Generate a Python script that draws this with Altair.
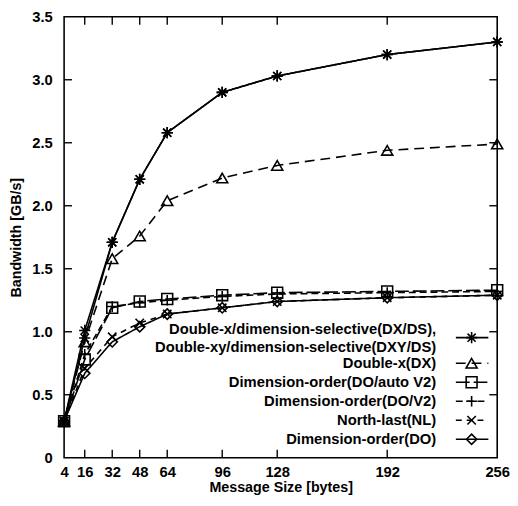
import altair as alt
import pandas as pd

# ---------------- data ----------------
sizes = [4, 16, 32, 48, 64, 96, 128, 192, 256]
series_names = ["DX/DS", "DX", "DO/auto V2", "DO/V2", "NL", "DO"]
dxds = [0.29, 1.01, 1.71, 2.21, 2.58, 2.90, 3.03, 3.20, 3.30]
dxys = [0.29, 0.95, 1.71, 2.21, 2.58, 2.90, 3.03, 3.20, 3.30]
dx = [0.29, 0.92, 1.58, 1.76, 2.04, 2.22, 2.32, 2.44, 2.49]
do_auto_v2 = [0.29, 0.78, 1.19, 1.24, 1.26, 1.29, 1.31, 1.32, 1.33]
do_v2 = [0.29, 0.82, 1.20, 1.23, 1.25, 1.28, 1.30, 1.31, 1.32]
nl = [0.29, 0.71, 0.96, 1.07, 1.14, 1.19, 1.24, 1.27, 1.29]
do = [0.29, 0.67, 0.92, 1.04, 1.14, 1.19, 1.24, 1.27, 1.29]
legend_lines_text = [
    "Double-x/dimension-selective(DX/DS),",
    "Double-xy/dimension-selective(DXY/DS)",
    "Double-x(DX)",
    "Dimension-order(DO/auto V2)",
    "Dimension-order(DO/V2)",
    "North-last(NL)",
    "Dimension-order(DO)",
]
x_ticks = [4, 16, 32, 48, 64, 96, 128, 192, 256]
x_inner_ticks = [16, 32, 48, 64, 96, 128, 192]
y_ticks = [0, 0.5, 1.0, 1.5, 2.0, 2.5, 3.0, 3.5]
y_inner_ticks = [0.5, 1.0, 1.5, 2.0, 2.5, 3.0]

# ---------------- styles ----------------
W, H = 440, 448
TOP = 5
BOTTOM = 490 - TOP - H
FONT = "Liberation Sans"
star = "M-1,0H1M0,-1V1M-0.72,-0.72L0.72,0.72M-0.72,0.72L0.72,-0.72"
plus = "M-1,0H1M0,-1V1"
xmark = "M-0.8,-0.8L0.8,0.8M-0.8,0.8L0.8,-0.8"
shapes = [star, "triangle-up", "square", plus, xmark, "diamond"]
dashes = [[1, 0], [10, 6], [14, 4], [7, 4], [6, 5], [1, 0]]
sizes_mark = [130, 110, 75, 120, 110, 80]
SW = 1.6

rows = []
for name, vals in zip(series_names, [dxds, dx, do_auto_v2, do_v2, nl, do]):
    for s, v in zip(sizes, vals):
        rows.append({"series": name, "line": name, "size": s, "bw": v})
for s, v in zip(sizes, dxys):
    rows.append({"series": "DX/DS", "line": "DXY/DS", "size": s, "bw": v})
df = pd.DataFrame(rows)

xs = alt.Scale(domain=[4, 256], nice=False, zero=False)
ys = alt.Scale(domain=[0, 3.5], nice=False)
dash_scale = alt.Scale(domain=series_names, range=dashes)
shape_scale = alt.Scale(domain=series_names, range=shapes)
size_scale = alt.Scale(domain=series_names, range=sizes_mark)

x_axis = alt.Axis(
    values=x_ticks, title="Message Size [bytes]", grid=False, domain=False,
    tickSize=0, labelPadding=7, labelFont=FONT, labelFontSize=15,
    labelFontWeight="bold", labelColor="black", titleFont=FONT,
    titleFontSize=14.5, titleFontWeight="bold", titleColor="black",
    titlePadding=1, labelFlush=False)
y_axis = alt.Axis(
    values=y_ticks, title="Bandwidth [GB/s]", grid=False, domain=False,
    tickSize=0, labelPadding=12, labelFont=FONT, labelFontSize=15,
    labelFontWeight="bold", labelColor="black", titleFont=FONT,
    titleFontSize=14.5, titleFontWeight="bold", titleColor="black",
    titlePadding=8, labelFlush=False,
    labelExpr="datum.value == 0 ? '0' : format(datum.value, '.1f')")

X = alt.X("size:Q", scale=xs, axis=x_axis, title="Message Size [bytes]")
Y = alt.Y("bw:Q", scale=ys, axis=y_axis, title="Bandwidth [GB/s]")

lines = alt.Chart(df).mark_line(color="black", strokeWidth=SW).encode(
    x=X, y=Y,
    strokeDash=alt.StrokeDash("series:N", scale=dash_scale, legend=None),
    detail="line:N",
)

points = alt.Chart(df).mark_point(filled=False, color="black", strokeWidth=SW, opacity=1).encode(
    x=X, y=Y,
    shape=alt.Shape("series:N", scale=shape_scale, legend=None),
    size=alt.Size("series:N", scale=size_scale, legend=None),
)

# inward tick marks
xt = pd.DataFrame({"size": x_inner_ticks})
yt = pd.DataFrame({"bw": y_inner_ticks})
TL = 8
bottom_ticks = alt.Chart(xt).mark_rule(color="black", strokeWidth=1.4).encode(
    x=X, y=alt.value(H), y2=alt.value(H - TL))
top_ticks = alt.Chart(xt).mark_rule(color="black", strokeWidth=1.4).encode(
    x=X, y=alt.value(0), y2=alt.value(TL))
left_ticks = alt.Chart(yt).mark_rule(color="black", strokeWidth=1.4).encode(
    y=Y, x=alt.value(0), x2=alt.value(TL))
right_ticks = alt.Chart(yt).mark_rule(color="black", strokeWidth=1.4).encode(
    y=Y, x=alt.value(W - TL), x2=alt.value(W))

main = alt.layer(lines, points, bottom_ticks, top_ticks, left_ticks, right_ticks)

# ---------------- manual legend (pixel layout relative to plot top) ----------------
off = 8 + TOP
sym_y = [339 - off] + [365 - off + 19.3 * k for k in range(5)]
txt_y = [330 - off, 349 - off] + [365 - off + 19.3 * k for k in range(5)]
leg = pd.DataFrame({"series": series_names, "py": sym_y})
legt = pd.DataFrame({"label": legend_lines_text, "py": txt_y})
TX = 443 - 65
SX = 479 - 65
L0, L1 = 398, 431

leg_text = alt.Chart(legt).mark_text(
    align="right", baseline="middle", font=FONT, fontSize=15, fontWeight="bold",
    color="black").encode(
    x=alt.value(TX), y=alt.Y("py:Q", scale=None, axis=None), text="label:N")
leg_lines = alt.Chart(leg).mark_rule(color="black", strokeWidth=SW).encode(
    x=alt.value(L0), x2=alt.value(L1), y=alt.Y("py:Q", scale=None, axis=None),
    strokeDash=alt.StrokeDash("series:N", scale=dash_scale, legend=None))
leg_pts = alt.Chart(leg).mark_point(filled=False, color="black", strokeWidth=SW, opacity=1).encode(
    x=alt.value(SX), y=alt.Y("py:Q", scale=None, axis=None),
    shape=alt.Shape("series:N", scale=shape_scale, legend=None),
    size=alt.Size("series:N", scale=size_scale, legend=None))
legend = alt.layer(leg_text, leg_lines, leg_pts)

chart = alt.layer(main, legend).resolve_scale(
    y="independent", strokeDash="independent", shape="independent", size="independent"
).properties(
    width=W, height=H,
    autosize=alt.AutoSizeParams(type="none"),
    padding={"left": 57, "top": TOP, "right": 13, "bottom": BOTTOM},
    background="white",
).configure_view(stroke="black", strokeWidth=1.6)

chart.save("out.html", embed_options={"renderer": "svg", "actions": False})
